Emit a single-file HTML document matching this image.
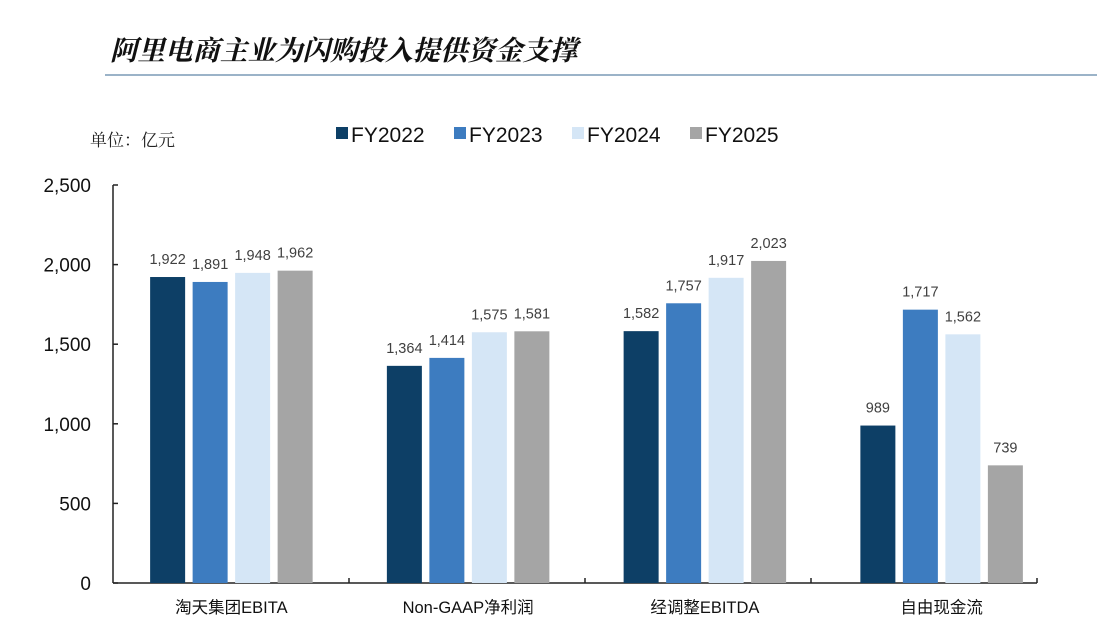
<!DOCTYPE html>
<html><head><meta charset="utf-8"><style>
body{margin:0;background:#fff;}
svg{display:block;font-family:"Liberation Sans","Noto Sans CJK SC",sans-serif;}
</style></head><body>
<svg width="1107" height="635" viewBox="0 0 1107 635">
<text x="110" y="60" font-size="27.5" font-weight="bold" font-style="italic" fill="#111" font-family="'Noto Serif CJK SC','Noto Sans CJK SC',serif">阿里电商主业为闪购投入提供资金支撑</text>
<line x1="105" y1="75" x2="1097" y2="75" stroke="#7a9ab5" stroke-width="1.5"/>
<text x="90" y="146" font-size="17" fill="#222" font-family="'Noto Serif CJK SC',serif">单位：亿元</text>
<g id="legend"></g>
<g id="plot"></g>
</svg>
<script>
const categories=["淘天集团EBITA","Non-GAAP净利润","经调整EBITDA","自由现金流"];
const seriesNames=["FY2022","FY2023","FY2024","FY2025"];
const fy2022=[1922,1364,1582,989];
const fy2023=[1891,1414,1757,1717];
const fy2024=[1948,1575,1917,1562];
const fy2025=[1962,1581,2023,739];
const yTicks=[0,500,1000,1500,2000,2500];
const yTickLabels=["0","500","1,000","1,500","2,000","2,500"];
const colors=["#0d3f66","#3d7cc0","#d5e6f6","#a5a5a5"];
const series=[fy2022,fy2023,fy2024,fy2025];
const NS="http://www.w3.org/2000/svg";
const plot=document.getElementById('plot'),legend=document.getElementById('legend');
const y0=583,y1=185,x0=113,x1=1060,axisEnd=1037;
const yMax=2500;
function y(v){return y0-(v/yMax)*(y0-y1);}
const band=(x1-x0)/categories.length;
function xc(i){return x0+band*(i+0.5);}
function mk(t,a,p){const e=document.createElementNS(NS,t);for(const k in a)e.setAttribute(k,a[k]);p.appendChild(e);return e;}
function fmt(v){return v.toLocaleString('en-US');}
let ax=mk('line',{x1:x0,y1:y1,x2:x0,y2:y0,stroke:'#222','stroke-width':1.5},plot);


let bx=mk('line',{x1:x0,y1:y0,x2:axisEnd,y2:y0,stroke:'#222','stroke-width':1.5},plot);


yTicks.forEach((t,i)=>{
 const tk=mk('line',{x1:x0,y1:y(t),x2:x0+5,y2:y(t),stroke:'#222','stroke-width':1.5},plot);
 
 
 const tl=mk('text',{x:91,y:y(t)+7,'font-size':19,'text-anchor':'end',fill:'#111'},plot);
 tl.textContent=yTickLabels[i];
 
 
});
const xTickPos=[349,585,811,axisEnd];
xTickPos.forEach(p=>{
 const tk=mk('line',{x1:p,y1:y0,x2:p,y2:y0-5,stroke:'#222','stroke-width':1.5},plot);
 
 
});
const bw=35,step=42.5;
categories.forEach((c,i)=>{
 series.forEach((s,j)=>{
  const bxp=xc(i)+(j-1.5)*step-bw/2;
  const r=mk('rect',{x:bxp,y:y(s[i]),width:bw,height:y0-y(s[i]),fill:colors[j]},plot);
  
  
  const t=mk('text',{x:bxp+bw/2,y:y(s[i])-13,'font-size':14.5,'text-anchor':'middle',fill:'#404040'},plot);
  t.textContent=fmt(s[i]);
  
  
 });
 const cl=mk('text',{x:xc(i),y:613,'font-size':16.5,'text-anchor':'middle',fill:'#111'},plot);
 cl.textContent=c;
 
 
});
const lx=[336,454,572,690];
seriesNames.forEach((n,j)=>{
 const r=mk('rect',{x:lx[j],y:127,width:12,height:12,fill:colors[j]},legend);
 
 
 const t=mk('text',{x:lx[j]+15,y:142,'font-size':21,fill:'#111'},legend);
 t.textContent=n;
 
 
});
</script>
</body></html>
